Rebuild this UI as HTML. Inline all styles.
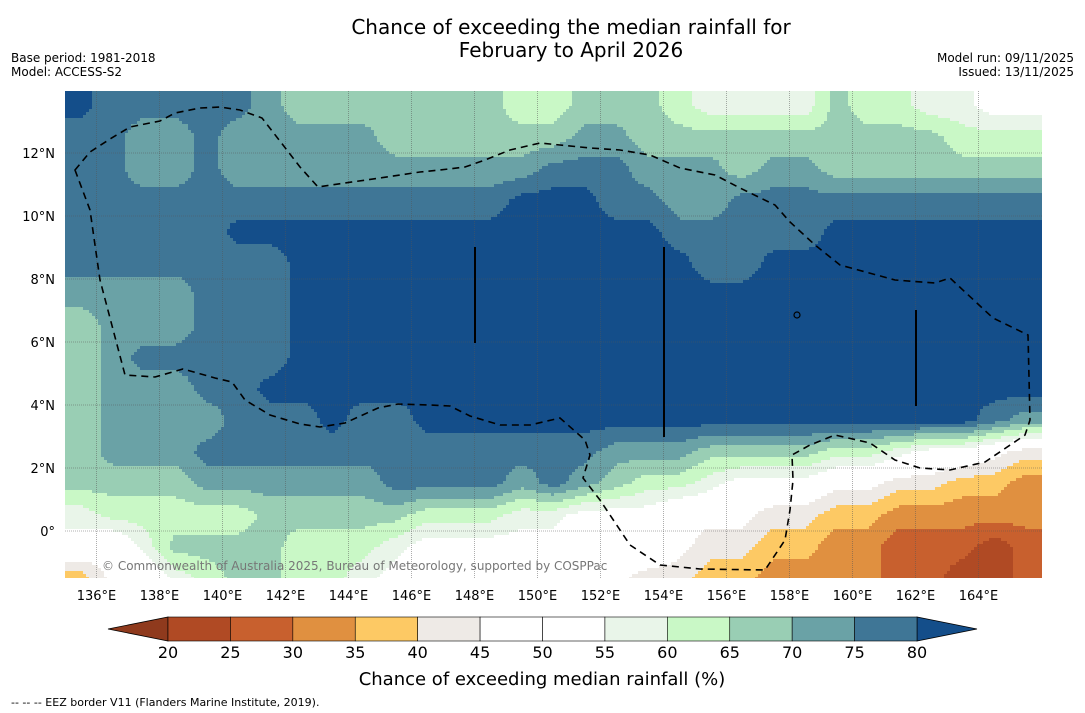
<!DOCTYPE html>
<html><head><meta charset="utf-8">
<style>
body{margin:0;background:#fff;width:1085px;height:713px;overflow:hidden;font-family:"DejaVu Sans","Liberation Sans",sans-serif;}
svg{position:absolute;left:0;top:0}
</style></head>
<body>
<svg id="chart" width="1085" height="713" viewBox="0 0 1085 713" xmlns="http://www.w3.org/2000/svg">
  <text x="571" y="34" text-anchor="middle" font-size="20" fill="#000">Chance of exceeding the median rainfall for</text>
  <text x="571" y="57" text-anchor="middle" font-size="20" fill="#000">February to April 2026</text>
  <text x="11" y="62" font-size="12">Base period: 1981-2018</text>
  <text x="11" y="76" font-size="12">Model: ACCESS-S2</text>
  <text x="1074" y="62" font-size="12" text-anchor="end">Model run: 09/11/2025</text>
  <text x="1074" y="76" font-size="12" text-anchor="end">Issued: 13/11/2025</text>
  <defs><clipPath id="mapclip"><rect x="65" y="91" width="977" height="487"/></clipPath></defs>
  <g id="field" clip-path="url(#mapclip)"></g>
  <g id="grid" clip-path="url(#mapclip)"></g>
  <path clip-path="url(#mapclip)" fill="none" stroke="#000" stroke-width="1.6" stroke-dasharray="7,5"
   d="M75,170 L90,210 L100,280 L125,375 L155,377 L183,369 L215,378 L232,382 L245,400 L270,415 L300,424 L320,427 L345,423 L378,408 L398,404 L430,405 L450,406 L470,416 L500,425 L530,425 L560,418 L585,440 L590,455 L583,478 L600,500 L630,545 L660,565 L700,569 L765,570 L785,540 L790,510 L793,480 L792,455 L810,445 L835,435 L870,443 L895,460 L920,468 L950,470 L985,462 L1025,435 L1030,420 L1028,335 L993,318 L950,278 L935,283 L895,280 L840,265 L815,245 L790,222 L775,205 L740,188 L715,175 L680,168 L650,155 L620,150 L590,148 L560,145 L540,143 L510,150 L485,160 L465,167 L440,170 L420,172 L380,178 L345,183 L318,187 L300,167 L283,145 L262,118 L240,110 L220,107 L200,108 L175,113 L160,121 L130,127 L110,139 L90,152 Z"/>
  <g stroke="#000" stroke-width="2">
    <line x1="475" y1="247" x2="475" y2="343"/>
    <line x1="664" y1="247" x2="664" y2="437"/>
    <line x1="916" y1="310" x2="916" y2="406"/>
  </g>
  <circle cx="797" cy="315" r="3" fill="none" stroke="#000" stroke-width="1.2"/>
  <text x="102" y="570" font-size="12" fill="#777">© Commonwealth of Australia 2025, Bureau of Meteorology, supported by COSPPac</text>
  <g id="xticks" font-size="13"></g>
  <g id="yticks" font-size="13"></g>
  <g id="cbar"></g>
  <text x="542" y="685" text-anchor="middle" font-size="18">Chance of exceeding median rainfall (%)</text>
  <text x="11" y="706" font-size="11">--  --  -- EEZ border V11 (Flanders Marine Institute, 2019).</text>
</svg>
<script>
// Grid values: rows = lat centres 13.5 .. -1.5, cols = lon centres 135.5 .. 165.5
const lats=[13.5,12.5,11.5,10.5,9.5,8.5,7.5,6.5,5.5,4.5,3.5,2.5,1.5,0.5,-0.5,-1.5];
const lons=[];for(let i=0;i<31;i++)lons.push(135.5+i);
const r0=[82,77,77,77,77,77,72,67,67,67,67,67,67,67,62,62,67,67,67,62,57,57,57,57,67,62,62,57,57,52,52];
const r1=[77,77,72,72,77,72,72,72,72,72,67,67,67,67,67,67,72,72,67,67,67,67,67,67,67,67,67,67,62,62,62];
const r2=[77,77,72,72,77,72,72,72,72,72,72,72,72,72,72,77,77,77,72,72,72,67,72,72,67,67,67,67,67,67,67];
const r3=[77,77,77,77,77,77,77,77,77,77,77,77,77,77,82,82,82,77,77,72,72,77,77,77,77,77,77,77,77,77,77];
const r4=[77,77,77,77,77,82,82,82,82,82,82,82,82,82,82,82,82,82,82,77,77,77,77,77,82,82,82,82,82,82,82];
const r5=[77,77,77,77,77,77,77,82,82,82,82,82,82,82,82,82,82,82,82,82,77,77,82,82,82,82,82,82,82,82,82];
const r6=[72,72,72,72,77,77,77,82,82,82,82,82,82,82,82,82,82,82,82,82,82,82,82,82,82,82,82,82,82,82,82];
const r7=[67,72,72,72,77,77,77,82,82,82,82,82,82,82,82,82,82,82,82,82,82,82,82,82,82,82,82,82,82,82,82];
const r8=[67,72,77,77,77,77,77,82,82,82,82,82,82,82,82,82,82,82,82,82,82,82,82,82,82,82,82,82,82,82,82];
const r9=[67,72,72,72,77,77,82,82,82,82,82,82,82,82,82,82,82,82,82,82,82,82,82,82,82,82,82,82,82,82,82];
const r10=[67,72,72,72,72,77,77,77,82,77,77,82,82,82,82,82,82,82,82,82,82,82,82,82,82,82,82,82,82,77,72];
const r11=[67,72,72,72,77,77,77,77,77,77,77,77,77,77,77,77,77,72,72,72,67,67,67,67,62,62,57,52,52,47,42];
const r12=[67,67,67,67,72,72,72,72,72,72,77,77,77,77,72,77,72,67,62,62,57,52,52,52,47,47,42,42,37,37,32];
const r13=[57,62,62,62,62,62,67,67,67,67,67,62,62,62,57,57,52,52,52,47,47,47,42,42,37,37,32,32,32,32,32];
const r14=[52,47,57,67,67,67,67,62,62,62,57,52,52,52,52,52,52,52,52,47,42,42,37,37,32,32,27,27,27,22,27];
const r15=[37,47,47,57,62,67,67,62,62,57,52,52,52,52,52,52,52,47,42,42,37,37,32,32,32,32,27,27,22,22,27];
const rows=[r0,r1,r2,r3,r4,r5,r6,r7,r8,r9,r10,r11,r12,r13,r14,r15];
const levels=[20,25,30,35,40,45,50,55,60,65,70,75,80];
const colors=['#8f3a1d','#b04a24','#c8602e','#e09040','#fdc964','#eeeae6','#ffffff','#ffffff','#e9f5e9','#c9f8c6','#99ceb4','#6aa2a6','#3f7696','#144e8a'];
const lonTicks=[136,138,140,142,144,146,148,150,152,154,156,158,160,162,164];
const latTicks=[12,10,8,6,4,2,0];

const NS='http://www.w3.org/2000/svg';
const X=lon=>65+(lon-135)*31.5;
const Y=lat=>531-lat*31.5;
const lonOf=x=>135+(x-65)/31.5;
const latOf=y=>(531-y)/31.5;
function colorFor(v){let k=0;for(let i=0;i<levels.length;i++){if(v>=levels[i])k=i+1;}return colors[k];}
function sample(lon,lat){
  let fi=lon-135.5, fj=(13.5-lat);
  fi=Math.max(0,Math.min(30,fi)); fj=Math.max(0,Math.min(15,fj));
  const i0=Math.floor(fi),j0=Math.floor(fj),i1=Math.min(30,i0+1),j1=Math.min(15,j0+1);
  const a=fi-i0,b=fj-j0;
  return rows[j0][i0]*(1-a)*(1-b)+rows[j0][i1]*a*(1-b)+rows[j1][i0]*(1-a)*b+rows[j1][i1]*a*b;
}
const field=document.getElementById('field');
const step=3;
for(let y=91;y<578;y+=step){
  let runStart=65,runCol=null;
  for(let x=65;;x+=step){
    const done=x>=1042;
    const c=done?null:colorFor(sample(lonOf(x+step/2),latOf(y+step/2)));
    if(c!==runCol){
      if(runCol){
        const r=document.createElementNS(NS,'rect');
        
        
        r.setAttribute('x',runStart);r.setAttribute('y',y);
        r.setAttribute('width',x-runStart+0.5);r.setAttribute('height',step+0.5);
        r.setAttribute('fill',runCol);field.appendChild(r);
      }
      runStart=x;runCol=c;
    }
    if(done)break;
  }
}
const grid=document.getElementById('grid');
lonTicks.forEach(l=>{
  const ln=document.createElementNS(NS,'line');
  
  
  ln.setAttribute('x1',X(l));ln.setAttribute('x2',X(l));ln.setAttribute('y1',91);ln.setAttribute('y2',578);
  ln.setAttribute('stroke','#555');ln.setAttribute('stroke-width','0.8');ln.setAttribute('stroke-dasharray','1,1');ln.setAttribute('opacity','0.6');
  grid.appendChild(ln);
  const t=document.createElementNS(NS,'text');
  
  
  t.setAttribute('x',X(l));t.setAttribute('y',600);t.setAttribute('text-anchor','middle');
  t.textContent=l+'°E';document.getElementById('xticks').appendChild(t);
});
latTicks.forEach(l=>{
  const ln=document.createElementNS(NS,'line');
  
  
  ln.setAttribute('x1',65);ln.setAttribute('x2',1042);ln.setAttribute('y1',Y(l));ln.setAttribute('y2',Y(l));
  ln.setAttribute('stroke','#555');ln.setAttribute('stroke-width','0.8');ln.setAttribute('stroke-dasharray','1,1');ln.setAttribute('opacity','0.6');
  grid.appendChild(ln);
  const t=document.createElementNS(NS,'text');
  
  
  t.setAttribute('x',55);t.setAttribute('y',Y(l)+5);t.setAttribute('text-anchor','end');
  t.textContent=l===0?'0°':l+'°N';document.getElementById('yticks').appendChild(t);
});
// colorbar
const cb=document.getElementById('cbar');
const cx=v=>168+(v-20)*(917-168)/60;
const cy0=617,cy1=641;
const tl=document.createElementNS(NS,'polygon');


tl.setAttribute('points',`108,629 168,${cy0} 168,${cy1}`);tl.setAttribute('fill',colors[0]);tl.setAttribute('stroke','#000');tl.setAttribute('stroke-width','0.8');cb.appendChild(tl);
const tr=document.createElementNS(NS,'polygon');


tr.setAttribute('points',`977,629 917,${cy0} 917,${cy1}`);tr.setAttribute('fill',colors[13]);tr.setAttribute('stroke','#000');tr.setAttribute('stroke-width','0.8');cb.appendChild(tr);
for(let i=0;i<levels.length-1;i++){
  const r=document.createElementNS(NS,'rect');
  
  
  r.setAttribute('x',cx(levels[i]));r.setAttribute('y',cy0);r.setAttribute('width',cx(levels[i+1])-cx(levels[i]));r.setAttribute('height',cy1-cy0);
  r.setAttribute('fill',colors[i+1]);r.setAttribute('stroke','#000');r.setAttribute('stroke-width','0.6');cb.appendChild(r);
}
levels.forEach(v=>{
  const t=document.createElementNS(NS,'text');
  
  
  t.setAttribute('x',cx(v));t.setAttribute('y',658);t.setAttribute('text-anchor','middle');t.setAttribute('font-size','16');
  t.textContent=v;cb.appendChild(t);
});
</script>
</body></html>
